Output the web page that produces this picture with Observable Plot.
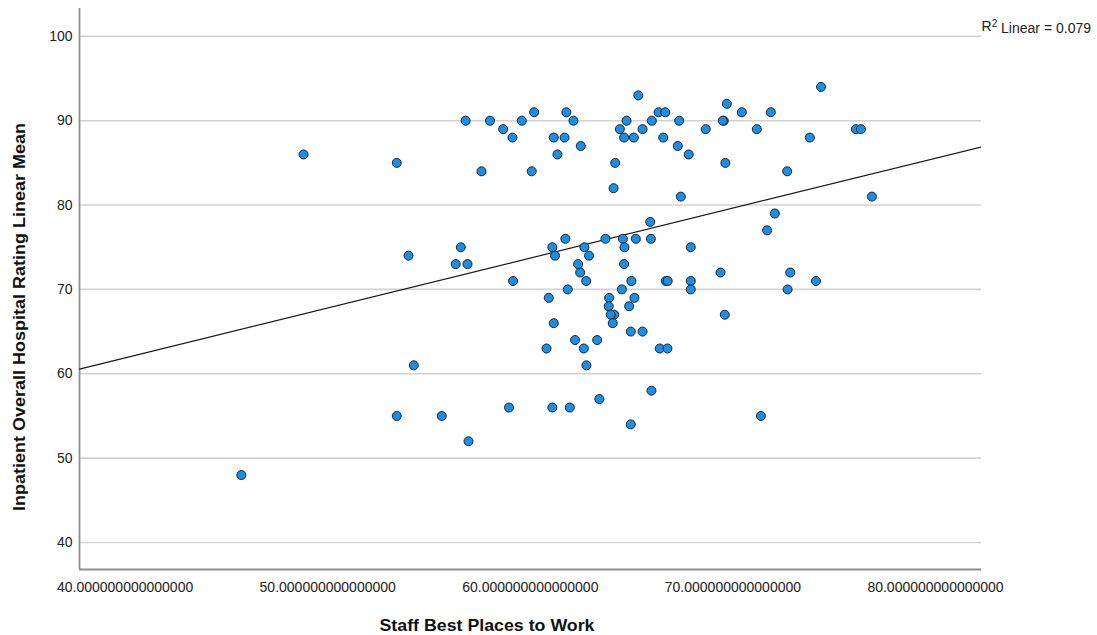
<!DOCTYPE html>
<html><head><meta charset="utf-8">
<script src="https://cdn.jsdelivr.net/npm/d3@7"></script>
<script src="https://cdn.jsdelivr.net/npm/@observablehq/plot@0.6"></script>
<style>body{margin:0;background:#fff} svg{display:block}</style>
</head><body><div id="chart"></div>
<script>
// Staff Best Places to Work score (x) and Inpatient Overall Hospital Rating Linear Mean (y)
const staffScore = [
  45.74,48.81,53.41,53.41,53.99,54.25,55.63,56.57,56.32,56.90,56.81,56.95,
  58.01,58.66,59.12,59.58,60.19,61.78,62.13,61.16,61.69,62.49,61.34,57.59,60.07,
  64.75,64.42,64.63,65.11,65.54,64.19,64.11,65.33,
  59.15,61.09,61.73,61.22,62.67,62.90,62.36,62.46,62.76,61.85,60.91,61.16,60.80,
  62.21,62.64,62.77,63.30,63.71,64.57,64.65,65.21,64.63,64.99,64.52,63.89,65.14,
  63.87,64.88,64.14,63.97,64.07,64.96,65.54,58.95,61.09,61.95,63.41,64.96,
  66.33,66.66,66.00,66.56,67.35,67.28,67.82,68.66,69.55,69.50,69.70,70.44,71.87,
  71.18,69.63,72.68,67.43,72.07,71.69,65.92,65.95,67.92,66.69,66.78,67.92,67.92,
  69.39,72.83,72.70,69.60,66.39,66.77,65.98,71.38,
  74.35,73.80,76.07,76.32,74.10,76.86
];
const ratingMean = [
  48,86,85,55,74,61,55,75,73,73,90,52,
  90,89,88,90,91,91,90,88,88,87,86,84,84,
  90,89,88,88,89,85,82,93,
  71,75,76,74,75,74,73,72,71,70,69,66,63,
  64,63,61,64,76,76,75,76,73,71,70,69,69,
  68,68,67,67,66,65,65,56,56,56,57,54,
  91,91,90,88,90,87,86,89,90,90,92,91,91,
  89,85,84,81,79,77,78,76,75,71,71,71,70,
  72,72,70,67,63,63,58,55,
  94,88,89,89,71,81
];
const xTicks = [40, 50, 60, 70, 80];
const xTickLabels = ["40.000000000000000","50.000000000000000","60.000000000000000","70.000000000000000","80.000000000000000"];
const yTicks = [40, 50, 60, 70, 80, 90, 100];
const xLabel = "Staff Best Places to Work";
const yLabel = "Inpatient Overall Hospital Rating Linear Mean";
const fitLabel = "R2 Linear = 0.079";
const xDomain = [37.75, 82.27];
const yDomain = [36.8, 103.3];

const data = staffScore.map((x, i) => ({x, y: ratingMean[i]}));
// ordinary least squares fit, drawn across the whole x range like SPSS
const mx = d3.mean(staffScore), my = d3.mean(ratingMean);
const sxy = d3.sum(data, d => (d.x - mx) * (d.y - my));
const sxx = d3.sum(data, d => (d.x - mx) ** 2);
const slope = sxy / sxx, intercept = my - slope * mx;
const fit = xDomain.map(x => ({x, y: intercept + slope * x}));

const font = "'Liberation Sans', Arial, sans-serif";
const chart = Plot.plot({
  width: 1097, height: 635,
  marginLeft: 79, marginRight: 116, marginTop: 8, marginBottom: 66,
  style: {fontFamily: font, fontSize: "14px", color: "#222", background: "#fff"},
  x: {domain: xDomain},
  y: {domain: yDomain},
  marks: [
    Plot.gridY(yTicks, {stroke: "#d2d2d2", strokeOpacity: 1, strokeWidth: 1.6}),
    Plot.ruleX([xDomain[0]], {stroke: "#8f8f8f", strokeWidth: 1.8}),
    Plot.ruleY([yDomain[0]], {stroke: "#8f8f8f", strokeWidth: 1.8}),
    Plot.axisY(yTicks, {tickSize: 0, tickPadding: 7, fontSize: 14, label: null, tickFormat: d => String(d)}),
    Plot.axisX(xTicks, {tickSize: 0, tickPadding: 13, fontSize: 14, label: null, tickFormat: d => xTickLabels[xTicks.indexOf(d)]}),
    Plot.line(fit, {x: "x", y: "y", stroke: "#1a1a1a", strokeWidth: 1.2, clip: true}),
    Plot.dot(data, {x: "x", y: "y", r: 4.5, fill: "#1a8fe3", stroke: "#1a2430", strokeWidth: 1}),
    Plot.text([fitLabel], {frameAnchor: "top-right", textAnchor: "start", dy: 13, fontSize: 14, fill: "#222", className: "fit-label"})
  ]
});

const svg = d3.select(chart);
// render the "2" of R2 as a true superscript
svg.selectAll(".fit-label text").each(function() {
  const t = d3.select(this);
  const s = t.text();
  t.text(null);
  t.append("tspan").text(s.slice(0, 1));
  t.append("tspan").attr("font-size", 10).attr("dy", "-0.45em").text(s.slice(1, 2));
  t.append("tspan").attr("dy", "0.45em").text(s.slice(2));
});
svg.append("text")
  .attr("x", 487).attr("y", 631)
  .attr("text-anchor", "middle")
  .attr("font-family", font).attr("font-weight", "bold").attr("font-size", 17)
  .attr("textLength", 215).attr("lengthAdjust", "spacingAndGlyphs")
  .attr("fill", "#111")
  .text(xLabel);
svg.append("text")
  .attr("transform", "translate(25,317) rotate(-90)")
  .attr("text-anchor", "middle")
  .attr("font-family", font).attr("font-weight", "bold").attr("font-size", 17)
  .attr("textLength", 388).attr("lengthAdjust", "spacingAndGlyphs")
  .attr("fill", "#111")
  .text(yLabel);

document.getElementById("chart").appendChild(chart);
</script>
</body></html>
